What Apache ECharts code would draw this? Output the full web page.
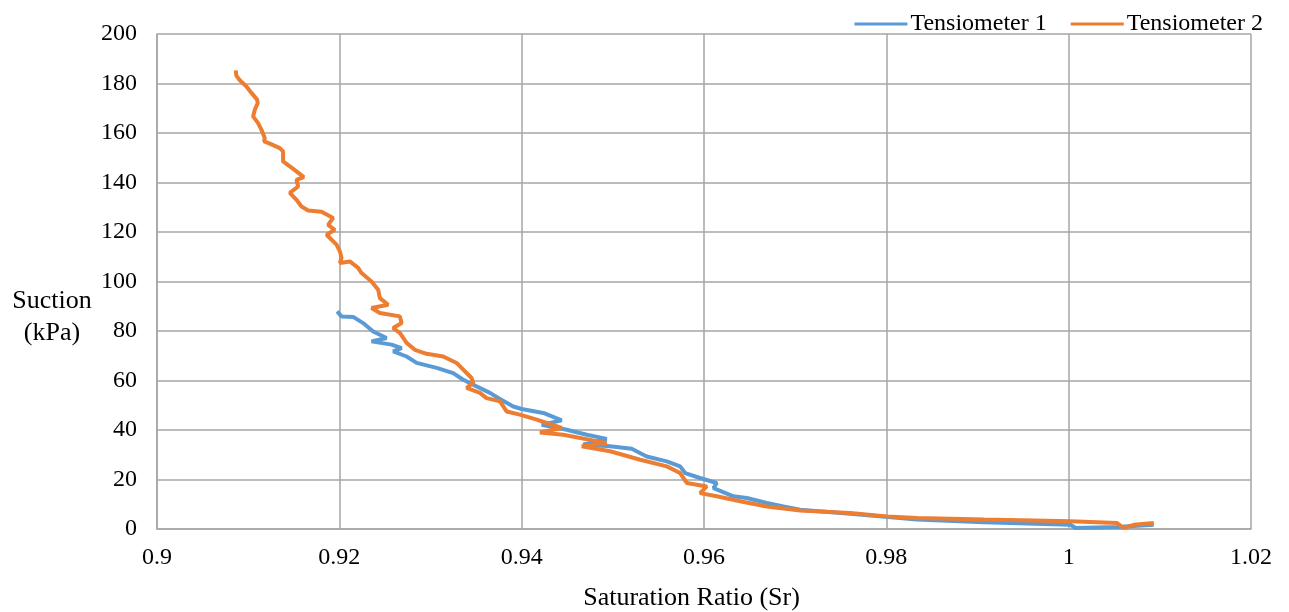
<!DOCTYPE html>
<html>
<head>
<meta charset="utf-8">
<script src="https://cdn.jsdelivr.net/npm/echarts@6/dist/echarts.min.js"></script>
<style>
  html, body { margin: 0; padding: 0; background: #fff; }
  #chart { width: 1289px; height: 612px; }
</style>
</head>
<body>
<div id="chart"></div>
<script>
// Tensiometer 1 (blue)
var t1Sr = [0.91976, 0.92024, 0.92152, 0.92261, 0.92371, 0.92518, 0.92353, 0.92573, 0.92683, 0.92591,
  0.92738, 0.92848, 0.93067, 0.93249, 0.93359, 0.93469, 0.93652, 0.93762, 0.93908, 0.94,
  0.94237, 0.94439, 0.9422, 0.94494, 0.94714, 0.94933, 0.94676, 0.9497, 0.95207, 0.95372,
  0.95592, 0.95738, 0.95793, 0.95957, 0.9614, 0.96104, 0.96323, 0.9647, 0.96689, 0.96872,
  0.97055, 0.97604, 0.98336, 0.99068, 1.0002, 1.00075, 1.00531, 1.00933];
var t1Suction = [87.9, 85.9, 85.7, 83.2, 79.8, 77.2, 75.8, 74.5, 73.1, 71.8,
  69.7, 67.1, 65.1, 63, 60.3, 58.3, 55, 52.5, 49.5, 48.5,
  46.9, 43.9, 42.1, 40.1, 38.1, 36.4, 34.1, 33.4, 32.4, 29.3,
  27.3, 25.3, 22.6, 20.6, 18.6, 16.5, 13.2, 12.5, 10.5, 9.1,
  7.8, 6.2, 3.8, 2.7, 1.7, 0.4, 0.8, 1.7];

// Tensiometer 2 (orange)
var t2Sr = [0.90864, 0.9087, 0.90908, 0.90981, 0.91036, 0.91098, 0.91105, 0.91073, 0.91054, 0.91109,
  0.91146, 0.91182, 0.91175, 0.91237, 0.91347, 0.91383, 0.91383, 0.91457, 0.9153, 0.9161,
  0.9153, 0.91548, 0.91457, 0.9153, 0.91585, 0.91658, 0.91805, 0.91932, 0.91877, 0.9195,
  0.9186, 0.91969, 0.92006, 0.92024, 0.92006, 0.92115, 0.92206, 0.92244, 0.92353, 0.92426,
  0.92445, 0.92536, 0.92353, 0.92445, 0.92664, 0.92683, 0.92591, 0.92664, 0.92738, 0.92829,
  0.92957, 0.9314, 0.93286, 0.93359, 0.93451, 0.93469, 0.93396, 0.93542, 0.93615, 0.93762,
  0.93835, 0.9398, 0.94165, 0.9444, 0.942, 0.94457, 0.94933, 0.94659, 0.9497, 0.953,
  0.95592, 0.95738, 0.95811, 0.96031, 0.95957, 0.9614, 0.96396, 0.96689, 0.97055, 0.97604,
  0.98007, 0.98336, 0.99068, 1.0002, 1.00531, 1.00604, 1.00714, 1.00933];
var t2Suction = [185.3, 183.2, 181.3, 178.8, 176.2, 173.5, 172.1, 169.4, 166.7, 164,
  161.3, 158, 156.6, 155.7, 153.9, 152.6, 148.5, 146.5, 144.5, 142.2,
  141.1, 138.4, 135.8, 133, 130.3, 128.7, 128.2, 125.7, 122.9, 120.9,
  118.9, 114.9, 112.2, 109.5, 107.5, 108.1, 105.5, 103.4, 100, 96.7,
  93.3, 90.6, 89.3, 87.3, 85.9, 83.2, 81.2, 79.2, 75.2, 72.4,
  70.8, 69.7, 67.1, 64.4, 61, 59, 57, 55, 52.9, 51.6,
  47.5, 46.2, 44.2, 40.8, 39, 38.1, 34.7, 33.4, 31.4, 28,
  25.3, 22.6, 18.6, 17.2, 14.5, 13.2, 11.2, 9.1, 7.5, 6.5,
  5.1, 4.4, 3.8, 3.1, 2.4, 0.4, 1.7, 2.4];

function pairs(xs, ys) {
  return xs.map(function (x, i) { return [x, ys[i]]; });
}

var font = 'Liberation Serif, Times New Roman, serif';
var gridColor = '#a6a6a6';

var chart = echarts.init(document.getElementById('chart'));
chart.setOption({
  animation: false,
  textStyle: { fontFamily: font },
  grid: { left: 157, right: 38, top: 34, bottom: 83, outerBoundsMode: 'none', containLabel: false },
  legend: {
    right: 21,
    top: 7,
    itemWidth: 53,
    itemHeight: 3,
    itemGap: 24,
    icon: 'rect',
    textStyle: { fontFamily: font, fontSize: 24, color: '#000', padding: [0, 0, 0, -2] },
    data: ['Tensiometer 1', 'Tensiometer 2']
  },
  xAxis: {
    type: 'value',
    min: 0.9,
    max: 1.02,
    interval: 0.02,
    name: 'Saturation Ratio (Sr)',
    nameLocation: 'middle',
    nameGap: 56,
    nameTextStyle: { fontFamily: font, fontSize: 26, color: '#000', padding: [0, 25, 0, 0] },
    axisLine: { show: true, lineStyle: { color: gridColor, width: 1.5 } },
    axisTick: { show: false },
    axisLabel: { fontFamily: font, fontSize: 24, color: '#000', margin: 17 },
    splitLine: { show: true, lineStyle: { color: gridColor, width: 1.5 } }
  },
  yAxis: {
    type: 'value',
    min: 0,
    max: 200,
    interval: 20,
    name: '{s| }\n{a|Suction}\n{a|(kPa)}',
    nameLocation: 'middle',
    nameGap: 105,
    nameRotate: 0,
    nameTextStyle: {
      fontFamily: font, fontSize: 26, color: '#000', align: 'center',
      rich: {
        s: { height: 71, lineHeight: 71, fontSize: 10 },
        a: { fontFamily: font, fontSize: 26, lineHeight: 32, color: '#000', align: 'center' }
      }
    },
    axisLine: { show: true, lineStyle: { color: gridColor, width: 1.5 } },
    axisTick: { show: false },
    axisLabel: { fontFamily: font, fontSize: 24, color: '#000', margin: 20 },
    splitLine: { show: true, lineStyle: { color: gridColor, width: 1.5 } }
  },
  series: [
    {
      name: 'Tensiometer 1',
      type: 'line',
      showSymbol: false,
      symbol: 'none',
      lineStyle: { width: 4, color: '#5b9bd5' },
      itemStyle: { color: '#5b9bd5' },
      data: pairs(t1Sr, t1Suction)
    },
    {
      name: 'Tensiometer 2',
      type: 'line',
      showSymbol: false,
      symbol: 'none',
      lineStyle: { width: 4, color: '#ed7d31' },
      itemStyle: { color: '#ed7d31' },
      data: pairs(t2Sr, t2Suction)
    }
  ]
});
</script>
</body>
</html>
